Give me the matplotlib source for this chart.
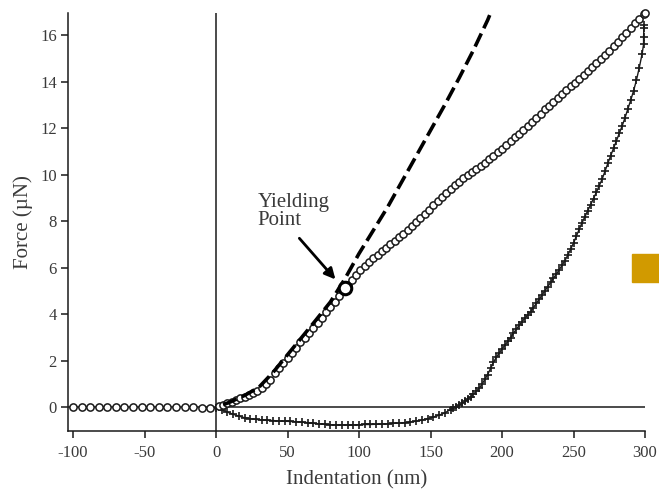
import matplotlib
matplotlib.use("Agg")
import matplotlib.pyplot as plt
from matplotlib.patches import Rectangle

# loading curve (open circles)
load_x = [-100, -94, -88, -82, -76, -70, -64, -58, -52, -46, -40, -34, -28, -22, -16, -10, -4,
          2, 5, 8, 11, 14, 17, 20, 23, 26, 29, 32, 35, 38, 41, 44, 47, 50, 53, 56, 59,
          62, 65, 68, 71, 74, 77, 80, 83, 86, 89, 92, 95, 98, 101, 104, 107, 110, 113,
          116, 119, 122, 125, 128, 131, 134, 137, 140, 143, 146, 149, 152, 155, 158, 161,
          164, 167, 170, 173, 176, 179, 182, 185, 188, 191, 194, 197, 200, 203, 206, 209,
          212, 215, 218, 221, 224, 227, 230, 233, 236, 239, 242, 245, 248, 251, 254, 257,
          260, 263, 266, 269, 272, 275, 278, 281, 284, 287, 290, 293, 296, 299, 300]
load_f = [0.0, 0.0, 0.01, 0.0, 0.0, -0.01, 0.0, 0.0, 0.01, 0.0, 0.0, -0.01, 0.0, 0.0, -0.01, -0.02, -0.03,
          0.04, 0.1, 0.16, 0.22, 0.3, 0.37, 0.45, 0.53, 0.61, 0.69, 0.8, 0.98, 1.18, 1.45, 1.67, 1.88, 2.1, 2.32, 2.55, 2.78,
          2.99, 3.2, 3.41, 3.63, 3.85, 4.08, 4.3, 4.54, 4.78, 5.02, 5.25, 5.48, 5.7, 5.91, 6.07, 6.24, 6.4, 6.55,
          6.7, 6.85, 7.0, 7.15, 7.3, 7.46, 7.62, 7.79, 7.95, 8.13, 8.31, 8.49, 8.67, 8.85, 9.03, 9.21,
          9.37, 9.54, 9.7, 9.84, 9.97, 10.11, 10.24, 10.38, 10.51, 10.65, 10.8, 10.95, 11.1, 11.27, 11.43, 11.6,
          11.76, 11.93, 12.09, 12.26, 12.44, 12.62, 12.8, 12.97, 13.13, 13.3, 13.46, 13.63, 13.79, 13.96, 14.12, 14.29,
          14.45, 14.62, 14.78, 14.95, 15.13, 15.33, 15.52, 15.72, 15.91, 16.11, 16.3, 16.5, 16.69, 16.89, 16.95]

# unloading curve (plus markers)
unload_x = [0, 4, 8, 12, 16, 20, 24, 28, 32, 36, 40, 44, 48, 52, 56, 60, 64, 68, 72, 76, 80,
            84, 88, 92, 96, 100, 104, 108, 112, 116, 120, 124, 128, 132, 136, 140, 144, 148,
            152, 156, 160, 164,
            166, 168, 170, 172, 174, 176, 178, 180, 182, 184, 186, 188, 190, 192, 194, 196,
            198, 200, 202, 204, 206, 208, 210, 212, 214, 216, 218, 220, 222, 224, 226, 228,
            230, 232, 234, 236, 238, 240, 242, 244, 246, 248, 250, 252, 254, 256, 258, 260,
            262, 264, 266, 268, 270, 272, 274, 276, 278, 280, 282, 284, 286, 288, 290, 292,
            294, 296, 298, 299, 299, 299.2, 299.4]
unload_f = [-0.03, -0.12, -0.22, -0.31, -0.39, -0.46, -0.5, -0.53, -0.56, -0.57, -0.58, -0.6, -0.61, -0.62, -0.63, -0.65, -0.67, -0.7, -0.72, -0.74, -0.76,
            -0.77, -0.77, -0.77, -0.77, -0.76, -0.75, -0.75, -0.74, -0.73, -0.72, -0.7, -0.69, -0.67, -0.64, -0.61, -0.56, -0.5,
            -0.43, -0.35, -0.25, -0.11,
            -0.05, 0.02, 0.08, 0.16, 0.24, 0.33, 0.44, 0.55, 0.68, 0.81, 0.98, 1.19, 1.4, 1.66, 1.92, 2.14,
            2.32, 2.5, 2.66, 2.82, 2.99, 3.17, 3.35, 3.51, 3.67, 3.82, 3.96, 4.1, 4.28, 4.46, 4.64, 4.82,
            5.0, 5.18, 5.36, 5.54, 5.72, 5.9, 6.1, 6.3, 6.53, 6.79, 7.05, 7.35, 7.65, 7.93, 8.19, 8.45,
            8.71, 8.97, 9.24, 9.52, 9.8, 10.14, 10.48, 10.81, 11.13, 11.45, 11.77, 12.09, 12.44, 12.82, 13.2, 13.6,
            14.06, 14.6, 15.2, 15.6, 15.9, 16.3, 16.45]

# elastic fit (dashed)
fit_x = [5, 10, 20, 30, 40, 50, 60, 70, 80, 90, 100, 110, 120, 130, 140, 150, 160, 170, 180, 190, 192]
fit_f = [0.1, 0.22, 0.5, 0.85, 1.5, 2.25, 3.0, 3.75, 4.52, 5.5, 6.6, 7.6, 8.6, 9.7, 10.8, 11.9, 13.0, 14.15, 15.35, 16.65, 16.95]

yield_x, yield_f = 90, 5.1

xticks = [-100, -50, 0, 50, 100, 150, 200, 250, 300]
yticks = [0, 2, 4, 6, 8, 10, 12, 14, 16]

plt.rcParams['font.family'] = ['Liberation Serif', 'DejaVu Serif']
grey = '#3a3a3a'
ink = '#1a1a1a'

fig = plt.figure(figsize=(6.59, 4.91), dpi=100)
ax = fig.add_axes([68 / 659, 1 - 431 / 491, 577 / 659, 418 / 491])

ax.axhline(0, color=ink, lw=1.1, zorder=1)
ax.axvline(0, color=ink, lw=1.1, zorder=1)

ax.plot(unload_x, unload_f, color=ink, lw=1.0, marker='+', ms=6, mew=1.2, zorder=2, clip_on=False)
ax.plot(load_x, load_f, ls='none', marker='o', ms=5.2, mfc='white', mec=ink, mew=1.1,
        zorder=3, clip_on=False)
ax.plot(fit_x, fit_f, color='black', lw=2.6, dashes=(4, 1.6), zorder=4, clip_on=False)
ax.plot([yield_x], [yield_f], ls='none', marker='o', ms=9, mfc='white', mec='black', mew=2.2,
        zorder=5)

ax.annotate('', xy=(84.8, 5.4), xytext=(57, 7.35),
            arrowprops=dict(arrowstyle='-|>', color='black', lw=2, mutation_scale=16))
ax.text(29, 7.6, 'Yielding\nPoint', fontsize=15, color=grey, ha='left', va='bottom',
        linespacing=0.95)

ax.set_xlim(-103.5, 300)
ax.set_ylim(-1.03, 16.95)
ax.set_xticks(xticks)
ax.set_yticks(yticks)
ax.set_xticklabels([str(v) for v in xticks])

for s in ['top', 'right']:
    ax.spines[s].set_visible(False)
for s in ['left', 'bottom']:
    ax.spines[s].set_color(ink)
    ax.spines[s].set_linewidth(1.1)

ax.tick_params(direction='out', length=5, width=1.1, color=ink, labelsize=12,
               labelcolor=grey, pad=3)
ax.tick_params(axis='x', pad=5)
ax.set_xlabel('Indentation (nm)', fontsize=15, color=grey, labelpad=7)
ax.set_ylabel('Force (\u00b5N)', fontsize=15, color=grey, labelpad=5)

fig.patches.append(Rectangle((632 / 659, 1 - 282 / 491), 27 / 659, 28 / 491,
                             transform=fig.transFigure, color='#D19A00', zorder=10))

fig.savefig('out.png', dpi=100)
